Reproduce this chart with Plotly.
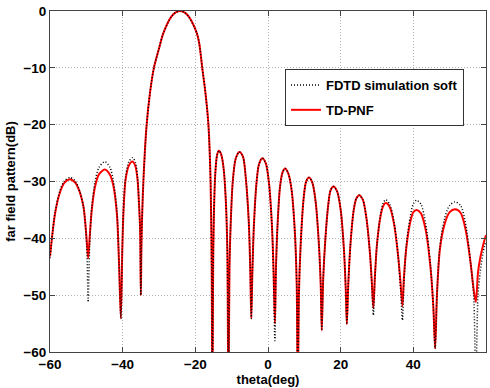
import plotly.graph_objects as go

# ---------------- data ----------------
theta_deg = [
    -60.0, -58.6, -57.2, -56.0, -54.5, -53.2, -52.2, -50.8, -49.9, -49.5,
    -49.1, -48.5, -47.6, -46.5, -44.9, -43.5, -42.6, -41.6, -41.0, -40.5,
    -40.1, -39.8, -39.2, -38.3, -37.3, -36.5, -35.9, -35.5, -35.2, -35.0,
    -34.8, -34.3, -33.4, -32.5, -31.4, -30.0, -28.8, -26.6, -25.4, -24.2,
    -23.0, -21.8, -19.6, -18.9, -18.1, -17.2, -16.4, -15.8, -15.5, -15.3,
    -15.1, -14.9, -14.5, -14.0, -13.5, -12.9, -12.2, -11.6, -11.2, -10.9,
    -10.6, -10.3, -9.7, -8.9, -7.9, -6.9, -6.1, -5.3, -4.9, -4.6,
    -4.3, -3.9, -3.2, -2.5, -1.6, -0.6, 0.3, 1.1, 1.5, 1.9,
    2.2, 2.6, 3.3, 4.0, 4.7, 5.6, 6.5, 7.4, 7.9, 8.2,
    8.5, 9.0, 9.8, 10.5, 11.3, 12.2, 13.1, 14.0, 14.5, 14.8,
    15.2, 15.8, 16.6, 17.2, 18.0, 19.0, 20.0, 20.9, 21.4, 21.7,
    22.1, 22.7, 23.6, 24.3, 25.1, 26.1, 27.1, 28.1, 28.6, 29.0,
    29.4, 30.0, 31.0, 31.7, 32.4, 33.5, 34.7, 35.8, 36.5, 37.0,
    37.4, 38.1, 39.2, 40.0, 40.9, 42.1, 43.4, 44.7, 45.5, 46.0,
    46.5, 47.3, 48.6, 50.0, 51.5, 53.0, 54.4, 55.7, 56.6, 57.2,
    57.8, 58.4, 59.2, 60.0,
]

td_pnf_db = [
    -43.2, -35.6, -31.8, -30.2, -29.6, -30.1, -31.2, -34.4, -40.3, -43.5,
    -40.0, -35.0, -30.9, -28.7, -27.9, -28.8, -30.6, -35.6, -44.4, -54.1,
    -42.0, -35.6, -29.7, -27.2, -26.5, -27.3, -29.7, -34.0, -38.5, -50.0,
    -40.0, -30.0, -20.0, -14.5, -10.0, -6.6, -3.9, -1.0, -0.25, 0.0,
    -0.25, -1.0, -3.9, -5.8, -10.0, -14.5, -20.0, -30.0, -45.0, -70.0,
    -45.0, -36.0, -28.5, -25.3, -24.6, -25.2, -27.8, -33.5, -42.0, -70.0,
    -45.0, -38.0, -30.0, -26.0, -24.8, -25.6, -29.5, -37.0, -45.0, -54.1,
    -46.0, -38.0, -30.5, -27.0, -25.9, -26.8, -30.5, -38.0, -45.0, -55.0,
    -45.0, -38.0, -31.0, -28.4, -27.7, -28.6, -31.5, -39.0, -48.0, -70.0,
    -50.0, -41.0, -33.0, -30.0, -29.3, -30.2, -33.5, -41.0, -48.0, -56.2,
    -47.0, -40.0, -34.0, -31.6, -30.9, -31.7, -35.0, -42.0, -49.0, -55.1,
    -48.0, -41.0, -35.0, -33.0, -32.4, -33.2, -36.5, -43.0, -48.0, -52.3,
    -47.0, -41.0, -36.0, -34.3, -33.8, -34.5, -37.5, -43.0, -48.0, -51.9,
    -47.0, -41.5, -37.0, -35.4, -35.0, -35.6, -38.5, -45.0, -52.0, -59.4,
    -50.0, -42.0, -37.5, -35.4, -34.9, -35.5, -38.5, -44.0, -49.0, -51.2,
    -46.0, -43.5, -41.2, -39.4,
]

fdtd_db = [
    -43.5, -35.4, -31.5, -29.9, -29.3, -29.8, -31.0, -34.4, -41.5, -51.0,
    -41.5, -34.5, -30.0, -27.5, -26.5, -27.5, -29.8, -35.0, -44.4, -54.1,
    -42.0, -35.3, -29.2, -26.5, -25.8, -26.6, -29.3, -34.0, -38.5, -50.0,
    -40.0, -30.0, -20.0, -14.5, -10.0, -6.6, -3.9, -1.0, -0.25, 0.0,
    -0.25, -1.0, -3.9, -5.8, -10.0, -14.5, -20.0, -30.0, -45.0, -70.0,
    -45.0, -36.0, -28.5, -25.3, -24.6, -25.2, -27.8, -33.5, -42.0, -70.0,
    -45.0, -38.0, -30.0, -26.0, -24.8, -25.6, -29.5, -37.0, -45.0, -54.1,
    -46.0, -38.0, -30.5, -27.0, -25.9, -26.8, -30.5, -38.0, -46.0, -58.0,
    -46.0, -38.0, -31.0, -28.4, -27.7, -28.6, -31.5, -39.0, -48.0, -70.0,
    -50.0, -41.0, -33.0, -30.0, -29.3, -30.2, -33.5, -41.0, -48.0, -56.2,
    -47.0, -40.0, -34.0, -31.6, -30.9, -31.7, -35.0, -42.0, -49.0, -55.1,
    -48.0, -41.0, -35.0, -33.0, -32.4, -33.2, -36.5, -43.0, -48.5, -53.5,
    -47.5, -41.0, -35.7, -33.8, -33.2, -34.0, -37.2, -43.0, -49.0, -54.4,
    -48.0, -41.0, -36.0, -33.9, -33.3, -34.0, -37.5, -44.5, -52.0, -59.4,
    -50.0, -41.5, -36.5, -34.2, -33.6, -34.2, -37.5, -44.0, -50.0, -65.0,
    -50.0, -46.0, -42.5, -40.5,
]

x_ticks = [-60, -40, -20, 0, 20, 40, 60]
y_ticks = [-60, -50, -40, -30, -20, -10, 0]

x_title = "theta(deg)"
y_title = "far field pattern(dB)"
name_fdtd = "FDTD simulation soft"
name_pnf = "TD-PNF"

# ---------------- figure ----------------
FONT = "Arial, Liberation Sans, Helvetica, sans-serif"

fig = go.Figure()
fig.add_trace(go.Scatter(
    x=theta_deg, y=td_pnf_db, mode="lines", name=name_pnf,
    line=dict(color="#ff0000", width=2, shape="spline", smoothing=0.8),
    legendrank=2, legendgroup="b",
))
fig.add_trace(go.Scatter(
    x=theta_deg, y=fdtd_db, mode="lines", name=name_fdtd,
    line=dict(color="#000000", width=1.5, dash="1px,2px", shape="spline", smoothing=0.8),
    legendrank=1, legendgroup="a",
))

axis_common = dict(
    showgrid=True, gridcolor="#b4b4b4", griddash="1px,2px", gridwidth=1,
    zeroline=False, showline=True, linecolor="#444444", linewidth=1,
    mirror="allticks", ticks="inside", ticklen=5, tickcolor="#444444",
    tickfont=dict(family=FONT, size=13.5, color="#000000", weight="bold"),
    automargin=False,
)

fig.update_layout(
    width=490, height=388,
    margin=dict(l=50, r=4, t=11, b=36),
    paper_bgcolor="white", plot_bgcolor="white",
    font=dict(family=FONT, color="#000000"),
    showlegend=True,
    legend=dict(
        x=0.539, y=0.83, xanchor="left", yanchor="top",
        bgcolor="white", bordercolor="#333333", borderwidth=1,
        font=dict(family=FONT, size=13, color="#000000", weight="bold"),
        traceorder="grouped", tracegroupgap=5,
    ),
    xaxis=dict(
        range=[-60, 60], tickvals=x_ticks,
        title=dict(text=x_title, standoff=2, font=dict(family=FONT, size=13, weight="bold")),
        **axis_common,
    ),
    yaxis=dict(
        range=[-60, 0], tickvals=y_ticks,
        title=dict(text=y_title, standoff=4, font=dict(family=FONT, size=13, weight="bold")),
        **axis_common,
    ),
)

fig.write_html(
    "out.html",
    config={"displayModeBar": False},
    post_script="document.body.style.margin='0';document.body.style.padding='0';",
)
